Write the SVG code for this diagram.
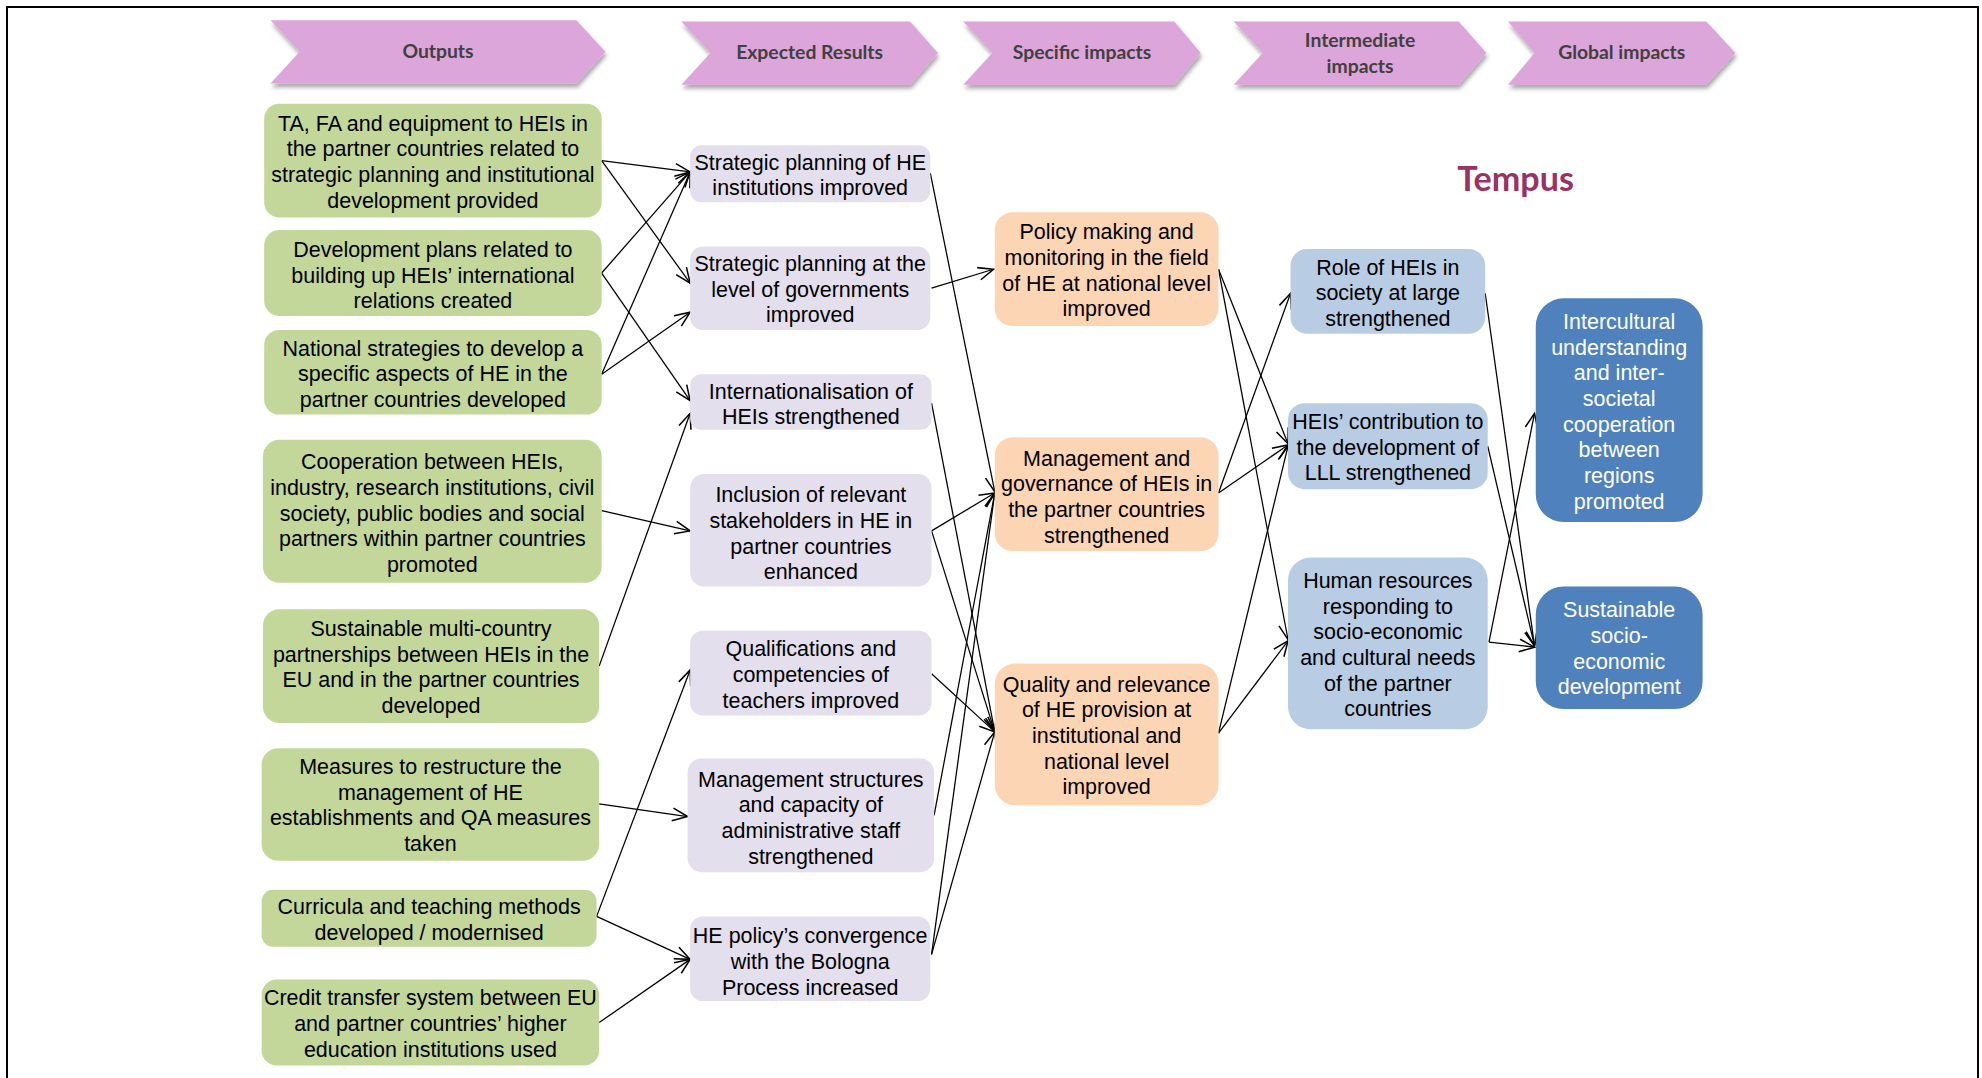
<svg xmlns="http://www.w3.org/2000/svg" width="1982" height="1078" viewBox="0 0 1982 1078">
<defs>
<style>
.hdr{fill:#DDA6DA;filter:url(#sh)}
.ht{font-family:Lato,'Liberation Sans',Arial,sans-serif;font-weight:bold;font-size:15.3px;fill:#404040;text-anchor:middle}
.t{font-family:'Liberation Sans',Arial,sans-serif;font-size:17px;fill:#000;text-anchor:middle}
.tw{font-family:'Liberation Sans',Arial,sans-serif;font-size:17px;fill:#fff;text-anchor:middle}
.g{fill:#C4D79B}
.l{fill:#E4DFEC}
.o{fill:#FCD5B4}
.b{fill:#B8CCE4}
.d{fill:#4F81BD}
.c line{stroke:#000;stroke-width:1;fill:none;marker-end:url(#arr)}
</style>
<filter id="sh" x="-5%" y="-20%" width="115%" height="160%">
<feDropShadow dx="1" dy="3" stdDeviation="1.5" flood-color="#000" flood-opacity="0.35"/>
</filter>
<marker id="arr" markerUnits="userSpaceOnUse" viewBox="-14 -8 16 16" markerWidth="16" markerHeight="16" refX="0" refY="0" orient="auto">
<path d="M-12,-5 L0,0 L-12,5" fill="none" stroke="#000" stroke-width="1.2"/>
</marker>
</defs>
<rect width="1982" height="1078" fill="#fff"/>
<path d="M7,1078 V7 H1978 V1078" fill="none" stroke="#000" stroke-width="2"/>
<g transform="scale(1.264)">
<g id="headers">
<g id="h-outputs"><path class="hdr" d="M214,16 H456 L479,41 L456,66 H214 L237,41 Z"/><text class="ht" x="346.5" y="46">Outputs</text></g>
<g id="h-expected"><path class="hdr" d="M539,17 H720 L742,42 L720,67 H539 L562,42 Z"/><text class="ht" x="640.5" y="47">Expected Results</text></g>
<g id="h-specific"><path class="hdr" d="M762,17 H929 L950,42 L929,67 H762 L785,42 Z"/><text class="ht" x="856" y="47">Specific impacts</text></g>
<g id="h-intermediate"><path class="hdr" d="M976,17 H1154 L1176,42 L1154,67 H976 L999,42 Z"/><text class="ht" x="1076" y="37">Intermediate<tspan x="1076" dy="20.5">impacts</tspan></text></g>
<g id="h-global"><path class="hdr" d="M1193,17 H1350 L1373,42 L1350,67 H1193 L1214,42 Z"/><text class="ht" x="1283" y="47">Global impacts</text></g>
</g>
<text id="title" x="1199" y="151" font-family="Lato,'Liberation Sans',Arial,sans-serif" font-weight="bold" font-size="27" fill="#993366" text-anchor="middle">Tempus</text>

<g id="connectors" class="c">
<line x1="476" y1="127" x2="546" y2="136"/>
<line x1="476" y1="127" x2="546" y2="224"/>
<line x1="476" y1="216" x2="546" y2="136"/>
<line x1="476" y1="216" x2="546" y2="317"/>
<line x1="476" y1="296" x2="546" y2="136"/>
<line x1="476" y1="296" x2="546" y2="247"/>
<line x1="476" y1="404" x2="546" y2="420"/>
<line x1="474" y1="527" x2="546" y2="327"/>
<line x1="474" y1="636" x2="544" y2="646"/>
<line x1="472" y1="725" x2="546" y2="530"/>
<line x1="472" y1="725" x2="546" y2="759"/>
<line x1="474" y1="809" x2="546" y2="759"/>
<line x1="736" y1="137" x2="787" y2="389"/>
<line x1="737" y1="228" x2="786" y2="213"/>
<line x1="737" y1="319" x2="787" y2="579"/>
<line x1="737" y1="420" x2="787" y2="390"/>
<line x1="737" y1="420" x2="787" y2="579"/>
<line x1="737" y1="533" x2="787" y2="579"/>
<line x1="739" y1="645" x2="787" y2="390"/>
<line x1="737" y1="755" x2="787" y2="390"/>
<line x1="737" y1="755" x2="787" y2="579"/>
<line x1="964" y1="213" x2="1019" y2="351"/>
<line x1="964" y1="213" x2="1019" y2="506"/>
<line x1="964" y1="390" x2="1021" y2="232"/>
<line x1="964" y1="390" x2="1019" y2="352"/>
<line x1="964" y1="580" x2="1019" y2="353"/>
<line x1="964" y1="580" x2="1019" y2="507"/>
<line x1="1175" y1="232" x2="1214" y2="511"/>
<line x1="1177" y1="353" x2="1214" y2="511"/>
<line x1="1178" y1="508" x2="1214" y2="327"/>
<line x1="1178" y1="508" x2="1214" y2="512"/>
</g>

<g id="G1"><rect class="g" x="209" y="82" width="267" height="90" rx="12"/><text class="t" x="342.5" y="103.3">TA, FA and equipment to HEIs in<tspan x="342.5" dy="20.3">the partner countries related to</tspan><tspan x="342.5" dy="20.3">strategic planning and institutional</tspan><tspan x="342.5" dy="20.3">development provided</tspan></text></g>
<g id="G2"><rect class="g" x="209" y="182" width="267" height="68" rx="12"/><text class="t" x="342.5" y="203.3">Development plans related to<tspan x="342.5" dy="20.3">building up HEIs’ international</tspan><tspan x="342.5" dy="20.3">relations created</tspan></text></g>
<g id="G3"><rect class="g" x="209" y="261" width="267" height="67" rx="12"/><text class="t" x="342.5" y="281.3">National strategies to develop a<tspan x="342.5" dy="20.3">specific aspects of HE in the</tspan><tspan x="342.5" dy="20.3">partner countries developed</tspan></text></g>
<g id="G4"><rect class="g" x="208" y="348" width="268" height="113" rx="13"/><text class="t" x="342" y="371.3">Cooperation between HEIs,<tspan x="342" dy="20.3">industry, research institutions, civil</tspan><tspan x="342" dy="20.3">society, public bodies and social</tspan><tspan x="342" dy="20.3">partners within partner countries</tspan><tspan x="342" dy="20.3">promoted</tspan></text></g>
<g id="G5"><rect class="g" x="208" y="482" width="266" height="90" rx="13"/><text class="t" x="341" y="503.3">Sustainable multi-country<tspan x="341" dy="20.3">partnerships between HEIs in the</tspan><tspan x="341" dy="20.3">EU and in the partner countries</tspan><tspan x="341" dy="20.3">developed</tspan></text></g>
<g id="G6"><rect class="g" x="207" y="592" width="267" height="89" rx="13"/><text class="t" x="340.5" y="612.3">Measures to restructure the<tspan x="340.5" dy="20.3">management of HE</tspan><tspan x="340.5" dy="20.3">establishments and QA measures</tspan><tspan x="340.5" dy="20.3">taken</tspan></text></g>
<g id="G7"><rect class="g" x="207" y="704" width="265" height="45" rx="9"/><text class="t" x="339.5" y="723.3">Curricula and teaching methods<tspan x="339.5" dy="20.3">developed / modernised</tspan></text></g>
<g id="G8"><rect class="g" x="207" y="775" width="267" height="68" rx="12"/><text class="t" x="340.5" y="795.3">Credit transfer system between EU<tspan x="340.5" dy="20.3">and partner countries’ higher</tspan><tspan x="340.5" dy="20.3">education institutions used</tspan></text></g>

<g id="L1"><rect class="l" x="546" y="115" width="190" height="45" rx="9"/><text class="t" x="641" y="134.3">Strategic planning of HE<tspan x="641" dy="20.3">institutions improved</tspan></text></g>
<g id="L2"><rect class="l" x="546" y="195" width="190" height="66" rx="10"/><text class="t" x="641" y="214.3">Strategic planning at the<tspan x="641" dy="20.3">level of governments</tspan><tspan x="641" dy="20.3">improved</tspan></text></g>
<g id="L3"><rect class="l" x="546" y="296" width="191" height="44" rx="9"/><text class="t" x="641.5" y="315.3">Internationalisation of<tspan x="641.5" dy="20.3">HEIs strengthened</tspan></text></g>
<g id="L4"><rect class="l" x="546" y="375" width="191" height="89" rx="11"/><text class="t" x="641.5" y="397.3">Inclusion of relevant<tspan x="641.5" dy="20.3">stakeholders in HE in</tspan><tspan x="641.5" dy="20.3">partner countries</tspan><tspan x="641.5" dy="20.3">enhanced</tspan></text></g>
<g id="L5"><rect class="l" x="546" y="499" width="191" height="67" rx="10"/><text class="t" x="641.5" y="519.3">Qualifications and<tspan x="641.5" dy="20.3">competencies of</tspan><tspan x="641.5" dy="20.3">teachers improved</tspan></text></g>
<g id="L6"><rect class="l" x="544" y="600" width="195" height="90" rx="11"/><text class="t" x="641.5" y="622.3">Management structures<tspan x="641.5" dy="20.3">and capacity of</tspan><tspan x="641.5" dy="20.3">administrative staff</tspan><tspan x="641.5" dy="20.3">strengthened</tspan></text></g>
<g id="L7"><rect class="l" x="546" y="725" width="190" height="67" rx="10"/><text class="t" x="641" y="746.3">HE policy’s convergence<tspan x="641" dy="20.3">with the Bologna</tspan><tspan x="641" dy="20.3">Process increased</tspan></text></g>

<g id="O1"><rect class="o" x="787" y="168" width="177" height="90" rx="14"/><text class="t" x="875.5" y="189.3">Policy making and<tspan x="875.5" dy="20.3">monitoring in the field</tspan><tspan x="875.5" dy="20.3">of HE at national level</tspan><tspan x="875.5" dy="20.3">improved</tspan></text></g>
<g id="O2"><rect class="o" x="787" y="346" width="177" height="90" rx="14"/><text class="t" x="875.5" y="368.3">Management and<tspan x="875.5" dy="20.3">governance of HEIs in</tspan><tspan x="875.5" dy="20.3">the partner countries</tspan><tspan x="875.5" dy="20.3">strengthened</tspan></text></g>
<g id="O3"><rect class="o" x="787" y="525" width="177" height="112" rx="16"/><text class="t" x="875.5" y="547.3">Quality and relevance<tspan x="875.5" dy="20.3">of HE provision at</tspan><tspan x="875.5" dy="20.3">institutional and</tspan><tspan x="875.5" dy="20.3">national level</tspan><tspan x="875.5" dy="20.3">improved</tspan></text></g>

<g id="B1"><rect class="b" x="1021" y="197" width="154" height="67" rx="13"/><text class="t" x="1098" y="217.3">Role of HEIs in<tspan x="1098" dy="20.3">society at large</tspan><tspan x="1098" dy="20.3">strengthened</tspan></text></g>
<g id="B2"><rect class="b" x="1019" y="319" width="158" height="68" rx="13"/><text class="t" x="1098" y="339.3">HEIs’ contribution to<tspan x="1098" dy="20.3">the development of</tspan><tspan x="1098" dy="20.3">LLL strengthened</tspan></text></g>
<g id="B3"><rect class="b" x="1019" y="441" width="158" height="136" rx="18"/><text class="t" x="1098" y="465.3">Human resources<tspan x="1098" dy="20.3">responding to</tspan><tspan x="1098" dy="20.3">socio-economic</tspan><tspan x="1098" dy="20.3">and cultural needs</tspan><tspan x="1098" dy="20.3">of the partner</tspan><tspan x="1098" dy="20.3">countries</tspan></text></g>

<g id="D1"><rect class="d" x="1215" y="236" width="132" height="177" rx="22"/><text class="tw" x="1281" y="260.3">Intercultural<tspan x="1281" dy="20.3">understanding</tspan><tspan x="1281" dy="20.3">and inter-</tspan><tspan x="1281" dy="20.3">societal</tspan><tspan x="1281" dy="20.3">cooperation</tspan><tspan x="1281" dy="20.3">between</tspan><tspan x="1281" dy="20.3">regions</tspan><tspan x="1281" dy="20.3">promoted</tspan></text></g>
<g id="D2"><rect class="d" x="1215" y="464" width="132" height="97" rx="22"/><text class="tw" x="1281" y="488.3">Sustainable<tspan x="1281" dy="20.3">socio-</tspan><tspan x="1281" dy="20.3">economic</tspan><tspan x="1281" dy="20.3">development</tspan></text></g>
</g>
</svg>
